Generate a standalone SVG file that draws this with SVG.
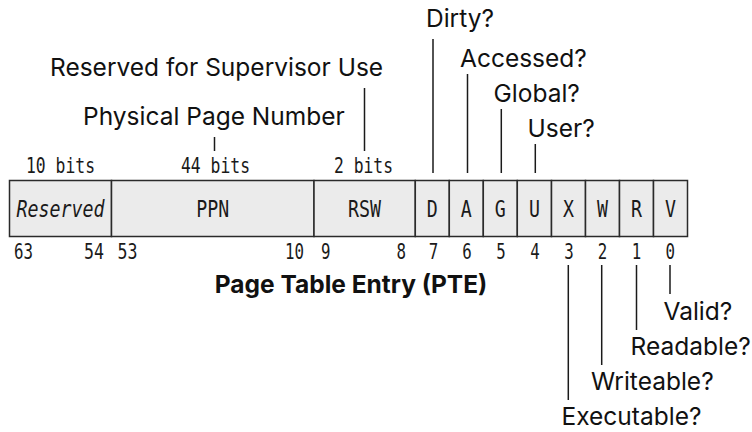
<svg xmlns="http://www.w3.org/2000/svg" width="752" height="432" viewBox="0 0 752 432">
<style>
.cell{fill:#ebebeb;stroke:#2a2a2a;stroke-width:1.5}
.m{font-family:"DejaVu Sans Mono","Liberation Mono",monospace;fill:#1a1a1a;font-size:21px}
.mc{font-family:"DejaVu Sans Mono","Liberation Mono",monospace;fill:#1a1a1a;font-size:22.5px;text-anchor:middle}
.s{font-family:Inter,"Noto Sans",sans-serif;fill:#111;font-size:24.5px}
.t{font-family:Inter,"Noto Sans",sans-serif;fill:#111;font-size:24.5px;font-weight:700;text-anchor:middle}
.ln{stroke:#1a1a1a;stroke-width:1.5;fill:none}
.mid{text-anchor:middle}
.end{text-anchor:end}
</style>
<rect width="752" height="432" fill="#fff"/>
<g id="field-reserved">
<rect class="cell" x="9.5" y="180.5" width="102" height="56"/>
<text class="mc" x="60.5" y="216.5" font-style="italic" textLength="88" lengthAdjust="spacingAndGlyphs">Reserved</text>
<text class="m mid" x="60.5" y="173" textLength="69" lengthAdjust="spacingAndGlyphs">10 bits</text>
<text class="m" x="14" y="258.5" textLength="19" lengthAdjust="spacingAndGlyphs">63</text>
<text class="m end" x="104" y="258.5" textLength="20" lengthAdjust="spacingAndGlyphs">54</text>
</g>
<g id="field-ppn">
<rect class="cell" x="111.5" y="180.5" width="202.5" height="56"/>
<text class="mc" x="212.8" y="216.5" textLength="33" lengthAdjust="spacingAndGlyphs">PPN</text>
<text class="m mid" x="215.5" y="173" textLength="69" lengthAdjust="spacingAndGlyphs">44 bits</text>
<text class="m" x="117.5" y="258.5" textLength="20" lengthAdjust="spacingAndGlyphs">53</text>
<text class="m end" x="304" y="258.5" textLength="19" lengthAdjust="spacingAndGlyphs">10</text>
</g>
<g id="field-rsw">
<rect class="cell" x="314" y="180.5" width="101.3" height="56"/>
<text class="mc" x="364.5" y="216.5" textLength="33" lengthAdjust="spacingAndGlyphs">RSW</text>
<text class="m mid" x="363.5" y="173" textLength="59" lengthAdjust="spacingAndGlyphs">2 bits</text>
<text class="m" x="321" y="258.5" textLength="9.5" lengthAdjust="spacingAndGlyphs">9</text>
<text class="m end" x="406" y="258.5" textLength="9.5" lengthAdjust="spacingAndGlyphs">8</text>
</g>
<g id="bit-d"><rect class="cell" x="415.3" y="180.5" width="34" height="56"/><text class="mc" x="432.3" y="216.5" textLength="11" lengthAdjust="spacingAndGlyphs">D</text><text class="m mid" x="433.5" y="258.5" textLength="9.5" lengthAdjust="spacingAndGlyphs">7</text></g>
<g id="bit-a"><rect class="cell" x="449.3" y="180.5" width="34" height="56"/><text class="mc" x="466.3" y="216.5" textLength="11" lengthAdjust="spacingAndGlyphs">A</text><text class="m mid" x="467" y="258.5" textLength="9.5" lengthAdjust="spacingAndGlyphs">6</text></g>
<g id="bit-g"><rect class="cell" x="483.3" y="180.5" width="34" height="56"/><text class="mc" x="500.3" y="216.5" textLength="11" lengthAdjust="spacingAndGlyphs">G</text><text class="m mid" x="501" y="258.5" textLength="9.5" lengthAdjust="spacingAndGlyphs">5</text></g>
<g id="bit-u"><rect class="cell" x="517.3" y="180.5" width="34.2" height="56"/><text class="mc" x="534.4" y="216.5" textLength="11" lengthAdjust="spacingAndGlyphs">U</text><text class="m mid" x="535" y="258.5" textLength="9.5" lengthAdjust="spacingAndGlyphs">4</text></g>
<g id="bit-x"><rect class="cell" x="551.5" y="180.5" width="34" height="56"/><text class="mc" x="568.5" y="216.5" textLength="11" lengthAdjust="spacingAndGlyphs">X</text><text class="m mid" x="569" y="258.5" textLength="9.5" lengthAdjust="spacingAndGlyphs">3</text></g>
<g id="bit-w"><rect class="cell" x="585.5" y="180.5" width="34" height="56"/><text class="mc" x="602.5" y="216.5" textLength="11" lengthAdjust="spacingAndGlyphs">W</text><text class="m mid" x="602.5" y="258.5" textLength="9.5" lengthAdjust="spacingAndGlyphs">2</text></g>
<g id="bit-r"><rect class="cell" x="619.5" y="180.5" width="34" height="56"/><text class="mc" x="636.5" y="216.5" textLength="11" lengthAdjust="spacingAndGlyphs">R</text><text class="m mid" x="636.5" y="258.5" textLength="9.5" lengthAdjust="spacingAndGlyphs">1</text></g>
<g id="bit-v"><rect class="cell" x="653.5" y="180.5" width="34" height="56"/><text class="mc" x="670.5" y="216.5" textLength="11" lengthAdjust="spacingAndGlyphs">V</text><text class="m mid" x="670.3" y="258.5" textLength="9.5" lengthAdjust="spacingAndGlyphs">0</text></g>
<g id="connectors">
<line class="ln" x1="364.5" y1="88" x2="364.5" y2="151"/>
<line class="ln" x1="214.5" y1="137" x2="214.5" y2="151"/>
<line class="ln" x1="433" y1="39" x2="433" y2="173"/>
<line class="ln" x1="467.5" y1="74" x2="467.5" y2="173"/>
<line class="ln" x1="501.3" y1="109" x2="501.3" y2="173"/>
<line class="ln" x1="535.3" y1="144" x2="535.3" y2="173"/>
<line class="ln" x1="568.3" y1="265" x2="568.3" y2="400"/>
<line class="ln" x1="601.7" y1="265" x2="601.7" y2="365"/>
<line class="ln" x1="636.5" y1="265" x2="636.5" y2="330"/>
<line class="ln" x1="670" y1="265" x2="670" y2="294"/>
</g>
<g id="label-rsw"><text class="s" x="50" y="76">Reserved for Supervisor Use</text></g>
<g id="label-ppn"><text class="s" x="83" y="125">Physical Page Number</text></g>
<g id="label-dirty"><text class="s" x="426" y="27">Dirty?</text></g>
<g id="label-accessed"><text class="s" x="460" y="67">Accessed?</text></g>
<g id="label-global"><text class="s" x="493.5" y="102">Global?</text></g>
<g id="label-user"><text class="s" x="527.5" y="137">User?</text></g>
<g id="label-valid"><text class="s" x="663.5" y="320">Valid?</text></g>
<g id="label-readable"><text class="s" x="630.5" y="355">Readable?</text></g>
<g id="label-writeable"><text class="s" x="591" y="390">Writeable?</text></g>
<g id="label-executable"><text class="s" x="561.5" y="425">Executable?</text></g>
<g id="title"><text class="t" x="351" y="293">Page Table Entry (PTE)</text></g>
</svg>
